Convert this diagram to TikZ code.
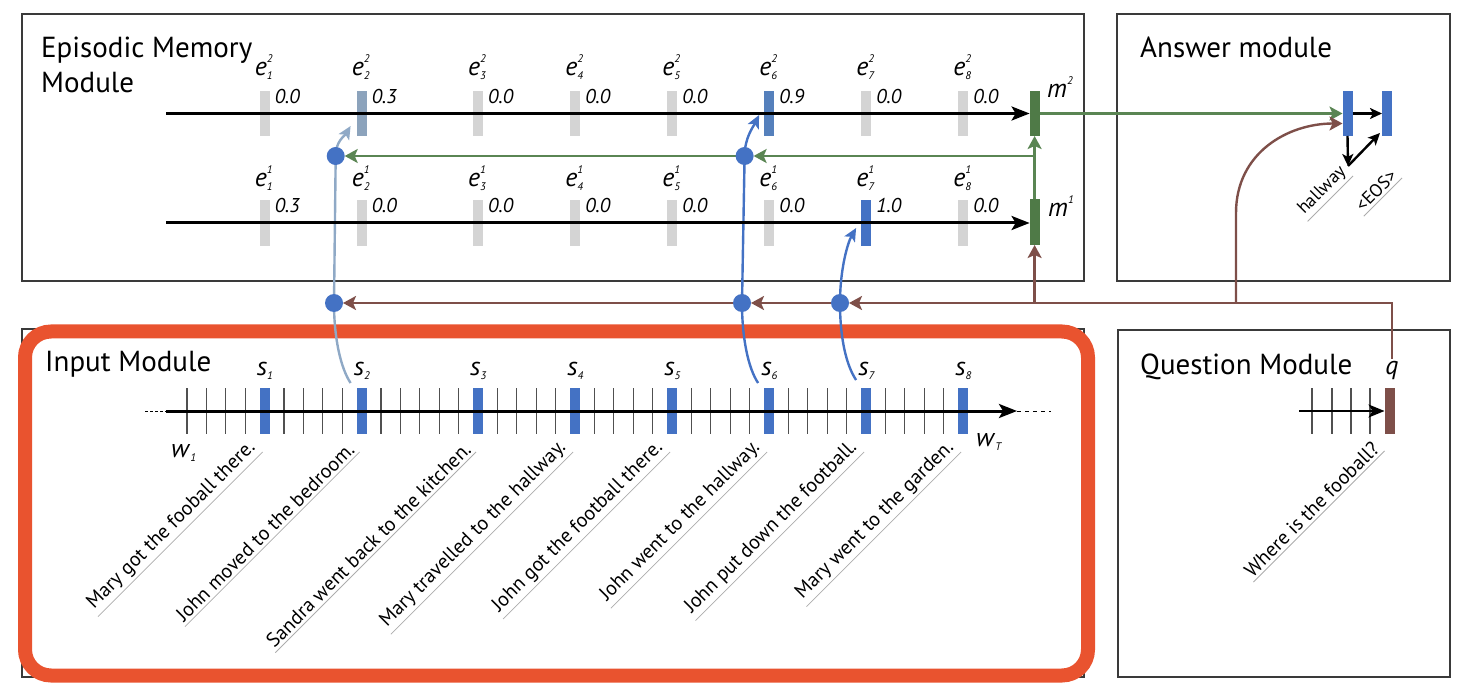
\documentclass[tikz,border=0pt]{standalone}
\usepackage{fontspec}
\setmainfont{PT Sans}
\usetikzlibrary{arrows.meta}
\definecolor{barblue}{HTML}{4472C4}
\definecolor{lightbar}{HTML}{8CA3BC}
\definecolor{lightpath}{HTML}{8FA9C6}
\definecolor{midblue}{HTML}{5580BC}
\definecolor{graybar}{HTML}{D4D4D4}
\definecolor{mgreen}{HTML}{4F7A47}
\definecolor{lgreen}{HTML}{5A8553}
\definecolor{brownc}{HTML}{7E4F49}
\definecolor{redc}{HTML}{E9532F}
\definecolor{boxc}{HTML}{3A3A3A}
\definecolor{tickc}{HTML}{505050}
\newcommand\supsub[3]{\textit{#1}\rlap{\raisebox{13pt}{\fontsize{11}{11}\selectfont\itshape #2}}\raisebox{-4pt}{\fontsize{11}{11}\selectfont\itshape #3}}
\newcommand\subonly[2]{\textit{#1}\raisebox{-4pt}{\fontsize{11}{11}\selectfont\itshape #2}}
\pgfdeclarelayer{back}
\pgfdeclarelayer{conn}
\pgfsetlayers{back,conn,main}
\tikzset{
  box/.style={draw=boxc, line width=1.6pt},
  bar/.style={draw=none, minimum width=10pt, minimum height=46pt, inner sep=0pt, outer sep=0pt},
  dot/.style={circle, fill=barblue, minimum size=18pt, inner sep=0pt, outer sep=0pt},
  title/.style={font=\fontsize{29}{35}\selectfont, inner sep=0pt, align=left},
  elab/.style={font=\fontsize{26}{26}\selectfont, inner sep=0pt, anchor=base west},
  val/.style={font=\fontsize{20}{20}\selectfont\itshape, inner sep=0pt, anchor=base west},
  sent/.style={rotate=45, anchor=south east, font=\fontsize{20}{22}\selectfont, inner xsep=2pt, inner ysep=3pt},
  uline/.style={draw=gray!65, line width=0.8pt},
  mline/.style={line width=3pt, -{Stealth[length=18pt,width=14pt,inset=4pt]}},
  gl/.style={draw=lgreen, line width=2.4pt, -{Stealth[length=13pt,width=14pt,inset=3pt]}},
  brl/.style={draw=brownc, line width=2.4pt, -{Stealth[length=13pt,width=14pt,inset=3pt]}},
  bluep/.style={draw=barblue, line width=2.4pt},
  lbluep/.style={draw=lightpath, line width=2.4pt},
  bluetip/.style={-{Stealth[length=13pt,width=12pt,inset=3pt]}},
  ansarrow/.style={line width=2.4pt, -{Stealth[length=12pt,width=11pt,inset=3pt]}},
  tick/.style={draw=tickc, line width=1.1pt}
}
\begin{document}
\begin{tikzpicture}[x=1pt,y=-1pt]
\useasboundingbox (0,0) rectangle (1464,692);
% ---------- boxes
\begin{pgfonlayer}{back}
\draw[box] (22,14) rectangle (1084,281);
\draw[box] (1117,14) rectangle (1450,281);
\draw[box] (1118,330) rectangle (1450,677);
\draw[box] (22,329) rectangle (1084,677);
\draw[draw=redc, line width=14pt, rounded corners=26pt] (25,331.5) rectangle (1088,675.5);
\end{pgfonlayer}
% ---------- titles
\node[title, anchor=north west] (tmem) at (41,37) {Episodic Memory\\Module};
\node[title, anchor=base west] (tans) at (1140,58) {Answer module};
\node[title, anchor=base west] (tin) at (45,372) {Input Module};
\node[title, anchor=base west] (tq) at (1140,374) {Question Module};
% ---------- memory bars, row 2
\foreach \x/\c/\v [count=\i] in {264.6/graybar/0.0, 361.6/lightbar/0.3, 478/graybar/0.0, 575.1/graybar/0.0, 672.1/graybar/0.0, 769.1/midblue/0.9, 866.1/graybar/0.0, 963.1/graybar/0.0}{
  \node[bar, fill=\c, minimum height=45pt] (e2\i) at (\x,113.5) {};
  \node[elab] (le2\i) at (\x-10,76) {\supsub{e}{2}{\i}};
  \node[val] (v2\i) at (\x+10,104) {\v};
}
% ---------- memory bars, row 1
\foreach \x/\c/\v [count=\i] in {264.6/graybar/0.3, 361.6/graybar/0.0, 478/graybar/0.0, 575.1/graybar/0.0, 672.1/graybar/0.0, 769.1/graybar/0.0, 866.1/barblue/1.0, 963.1/graybar/0.0}{
  \node[bar, fill=\c] (e1\i) at (\x,223) {};
  \node[elab] (le1\i) at (\x-10,187) {\supsub{e}{1}{\i}};
  \node[val] (v1\i) at (\x+10,213) {\v};
}
\node[bar, fill=mgreen, minimum height=45pt] (m2) at (1034.6,113.5) {};
\node[bar, fill=mgreen] (m1) at (1034.6,222) {};
\node[elab] (lm2) at (1047,98) {\supsub{m}{2}{}};
\node[elab] (lm1) at (1048,217) {\supsub{m}{1}{}};
\coordinate (st2) at (166,113.5);
\coordinate (st1) at (166,223);
\draw[mline] (st2) -- (m2.west);
\draw[mline] (st1) -- ([yshift=-1pt]m1.west);
% ---------- answer module
\node[bar, fill=barblue, minimum height=45pt] (a1) at (1347.5,113.5) {};
\node[bar, fill=barblue, minimum height=45pt] (a2) at (1387,113.5) {};
\coordinate (hw) at (1348,166);
\draw[ansarrow] (a1.east) -- (a2.west);
\draw[ansarrow] (a1.south) -- (hw);
\draw[ansarrow] (hw) -- ([xshift=-2pt,yshift=3pt]a2.south west);
\node[sent, font=\fontsize{18}{20}\selectfont] (thw) at (1353,176) {hallway};
\draw[uline] (thw.south west) -- (thw.south east);
\node[sent, font=\fontsize{18}{20}\selectfont] (teos) at (1402,178) {<EOS>};
\draw[uline] (teos.south west) -- (teos.south east);
% ---------- input module
\foreach \k in {0,...,40}{
  \pgfmathsetmacro\tx{187+19.4*\k}
  \draw[tick] (\tx,388) -- (\tx,434);
}
\foreach \x [count=\i] in {264.6, 361.6, 478, 575.1, 672.1, 769.1, 866.1, 963.1}{
  \node[bar, fill=barblue] (s\i) at (\x,411) {};
  \node[elab] (ls\i) at (\x-8,376) {\subonly{s}{\i}};
}
\coordinate (in0) at (145,411);
\coordinate (in1) at (166,411);
\coordinate (in2) at (1017,411);
\coordinate (in3) at (1051,411);
\draw[line width=1pt, dash pattern=on 2.5pt off 2.5pt] (in0) -- (in1);
\draw[mline] (in1) -- (in2);
\draw[line width=1pt, dash pattern=on 4pt off 4pt] (in2) -- (in3);
\node[elab] (lw1) at (171,457) {\subonly{w}{1}};
\node[elab] (lwT) at (976,446) {\subonly{w}{T}};
\foreach \t [count=\i] in {Mary got the fooball there., John moved to the bedroom., Sandra went back to the kitchen., Mary travelled to the hallway., John got the football there., John went to the hallway., John put down the football., Mary went to the garden.}{
  \node[sent] (t\i) at ([xshift=-2pt,yshift=-18pt]s\i.south) {\t};
  \draw[uline] (t\i.south west) -- (t\i.south east);
}
% ---------- question module
\node[bar, fill=brownc] (q) at (1389.5,411) {};
\foreach \tx in {1312,1332,1351,1370}{ \draw[tick] (\tx,388) -- (\tx,434); }
\coordinate (qs) at (1299,411);
\draw[line width=2pt, -{Stealth[length=16pt,width=13pt,inset=4pt]}] (qs) -- (q.west);
\node[elab, anchor=base] (lq) at (1392,374) {\textit{q}};
\node[sent] (tq1) at ([xshift=-5pt,yshift=-17pt]q.south) {Where is the fooball?};
\draw[uline] (tq1.south west) -- (tq1.south east);
% ---------- dots
\node[dot] (g2) at (335.7,156) {};
\node[dot] (g6) at (744.6,156) {};
\node[dot] (b2) at (334,303) {};
\node[dot] (b6) at (742,303) {};
\node[dot] (b7) at (840,303) {};
% ---------- connectors
\begin{pgfonlayer}{conn}
% green
\draw[gl] (m1.north) -- (m2.south);
\draw[gl] (m1.north |- g6) -- (g6);
\draw[gl] (g6) -- (g2);
\draw[gl] (m2.east) -- (a1.west);
% brown
\draw[brl] ([yshift=2pt]lq.north) |- (b7);
\draw[brl] (b7) -- (b6);
\draw[brl] (b6) -- (b2);
\draw[brl] (m1.south |- b7.center) -- (m1.south);
\coordinate (ja) at (1236,303);
\draw[brl] (ja) -- ++(0,-90) .. controls +(0,-60) and +(-55,0) .. ([yshift=-10pt]a1.west);
% light blue path s2
\draw[lbluep] ([xshift=-11pt,yshift=5pt]s2.north) .. controls +(-10,-15) and +(0,35) .. (b2.center) -- (g2.center);
\draw[lbluep, bluetip] (g2.center) .. controls +(0,-15) and +(-6,10) .. ([xshift=-6pt,yshift=10pt]e22.south west);
% blue path s6
\draw[bluep] ([xshift=-11pt,yshift=5pt]s6.north) .. controls +(-10,-15) and +(0,35) .. (b6.center) -- (g6.center);
\draw[bluep, bluetip] (g6.center) .. controls +(0,-18) and +(-6,12) .. ([xshift=-5pt,yshift=21pt]e26.south west);
% blue path s7
\draw[bluep] ([xshift=-10pt,yshift=8pt]s7.north) .. controls +(-10,-15) and +(0,35) .. (b7.center);
\draw[bluep, bluetip] (b7.center) .. controls +(0,-35) and +(-8,14) .. ([xshift=-5pt,yshift=18pt]e17.south west);
\end{pgfonlayer}
\end{tikzpicture}
\end{document}
